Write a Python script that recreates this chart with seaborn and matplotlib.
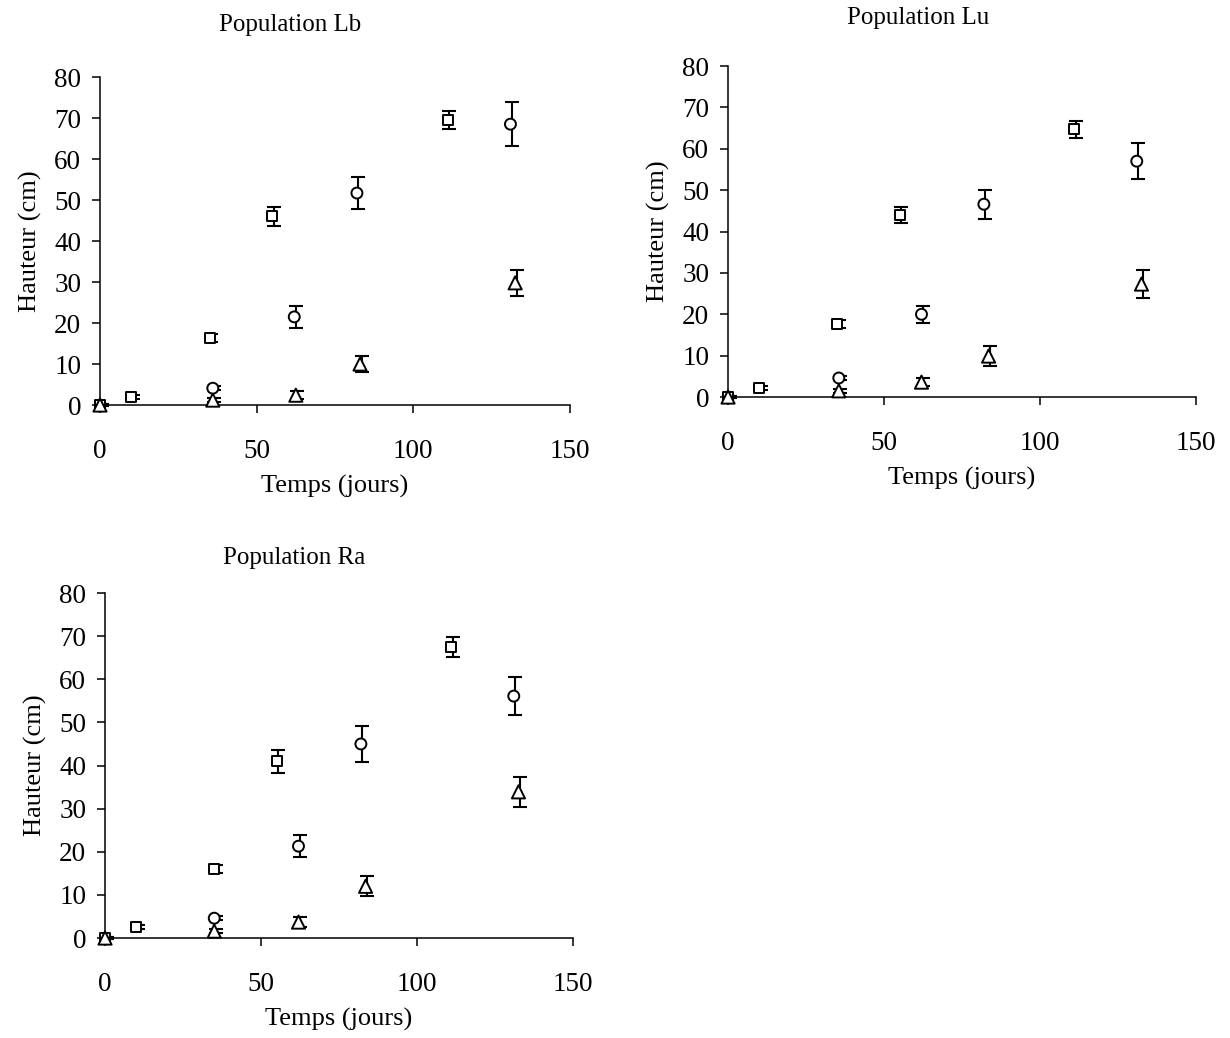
import pandas as pd
import matplotlib
matplotlib.use("Agg")
import matplotlib.pyplot as plt
import matplotlib.transforms as mtransforms
import seaborn as sns

# Population Lb
lb_sq_x = [0, 10, 35, 55, 111]
lb_sq_y = [0, 2.0, 16.3, 46.0, 69.5]
lb_sq_e = [0.3, 0.5, 1.0, 2.3, 2.2]
lb_ci_x = [36, 62, 82, 131]
lb_ci_y = [4.1, 21.5, 51.7, 68.5]
lb_ci_e = [0.5, 2.7, 4.0, 5.3]
lb_tr_x = [0, 36, 62.5, 83, 132.5]
lb_tr_y = [0, 1.2, 2.4, 10.0, 29.8]
lb_tr_e = [0.3, 0.5, 1.0, 2.0, 3.2]

# Population Lu
lu_sq_x = [0, 10, 35, 55, 111]
lu_sq_y = [0, 2.2, 17.6, 44.0, 64.7]
lu_sq_e = [0.3, 0.5, 1.0, 2.0, 2.0]
lu_ci_x = [35.5, 62, 82, 131]
lu_ci_y = [4.6, 20.0, 46.6, 57.0]
lu_ci_e = [0.5, 2.0, 3.5, 4.3]
lu_tr_x = [0, 35.5, 62, 83.5, 132.5]
lu_tr_y = [0, 1.5, 3.6, 9.9, 27.3]
lu_tr_e = [0.3, 0.5, 1.0, 2.4, 3.3]

# Population Ra
ra_sq_x = [0, 10, 35, 55, 111]
ra_sq_y = [0, 2.5, 16.0, 41.0, 67.5]
ra_sq_e = [0.3, 0.5, 1.0, 2.7, 2.4]
ra_ci_x = [35, 62, 82, 131]
ra_ci_y = [4.6, 21.3, 45.0, 56.1]
ra_ci_e = [0.5, 2.5, 4.2, 4.5]
ra_tr_x = [0, 35, 62, 83.5, 132.5]
ra_tr_y = [0, 1.6, 3.7, 12.0, 33.9]
ra_tr_e = [0.3, 0.5, 1.2, 2.3, 3.5]

titles = ["Population Lb", "Population Lu", "Population Ra"]
x_ticks = [0, 50, 100, 150]
y_ticks = [0, 10, 20, 30, 40, 50, 60, 70, 80]


def build_frame(sq, ci, tr):
    # one long table per panel, series name kept for the marker style
    parts = []
    for name, (x, y, e) in zip(["sq", "ci", "tr"], [sq, ci, tr]):
        parts.append(pd.DataFrame({"x": x, "y": y, "err": e, "serie": name}))
    return pd.concat(parts, ignore_index=True)


frames = [
    build_frame((lb_sq_x, lb_sq_y, lb_sq_e), (lb_ci_x, lb_ci_y, lb_ci_e), (lb_tr_x, lb_tr_y, lb_tr_e)),
    build_frame((lu_sq_x, lu_sq_y, lu_sq_e), (lu_ci_x, lu_ci_y, lu_ci_e), (lu_tr_x, lu_tr_y, lu_tr_e)),
    build_frame((ra_sq_x, ra_sq_y, ra_sq_e), (ra_ci_x, ra_ci_y, ra_ci_e), (ra_tr_x, ra_tr_y, ra_tr_e)),
]

sns.set_theme(style="ticks")
plt.rcParams["font.family"] = ["Liberation Serif", "DejaVu Serif"]
plt.rcParams["text.color"] = "black"
plt.rcParams["axes.labelcolor"] = "black"

fig = plt.figure(figsize=(12.3, 10.38), dpi=100)
positions = [
    [0.0813, 0.6098, 0.3821, 0.3160],
    [0.5919, 0.6175, 0.3805, 0.3189],
    [0.0854, 0.0963, 0.3805, 0.3324],
]
title_pos = [(0.404, 1.159), (0.406, 1.145), (0.404, 1.101)]
markers = {"sq": "s", "ci": "o", "tr": "^"}
marker_sizes = {"sq": 52, "ci": 62, "tr": 90}

for pos, df, title, tpos in zip(positions, frames, titles, title_pos):
    ax = fig.add_axes(pos)
    # error bars sit a hair to the right of the markers, as in the original
    shifted = mtransforms.offset_copy(ax.transData, fig=fig, x=1.1, y=0, units="points")
    ax.errorbar(df["x"], df["y"], yerr=df["err"], fmt="none", ecolor="black",
                elinewidth=1.5, capsize=4.7, capthick=1.5, zorder=2, clip_on=False,
                transform=shifted)
    sns.scatterplot(data=df, x="x", y="y", style="serie", markers=markers,
                    size="serie", sizes=marker_sizes,
                    color="white", edgecolor="black", linewidth=1.4, legend=False,
                    zorder=3, clip_on=False, ax=ax)
    ax.set_xlim(0, 150)
    ax.set_ylim(0, 80)
    ax.set_xticks(x_ticks)
    ax.set_yticks(y_ticks)
    ax.tick_params(axis="both", direction="out", length=5.5, width=1.1, colors="black", labelsize=19.5)
    ax.tick_params(axis="x", pad=19)
    ax.tick_params(axis="y", pad=8)
    for side in ["left", "bottom"]:
        ax.spines[side].set_linewidth(1.1)
        ax.spines[side].set_color("black")
    sns.despine(ax=ax)
    ax.set_xlabel("Temps (jours)", fontsize=19, labelpad=8)
    ax.set_ylabel("Hauteur (cm)", fontsize=19, labelpad=9)
    ax.text(tpos[0], tpos[1], title, transform=ax.transAxes, ha="center", va="center", fontsize=18)

fig.savefig("out.png", dpi=100, facecolor="white")
